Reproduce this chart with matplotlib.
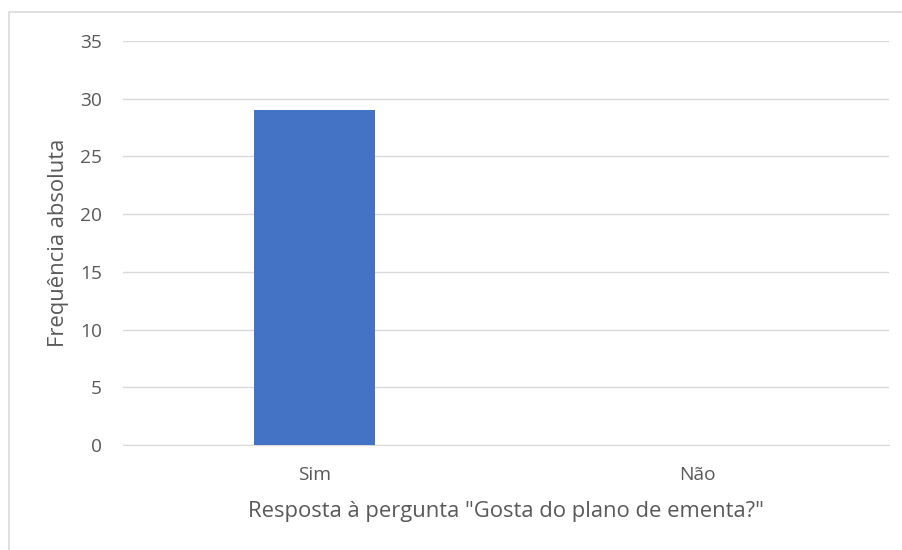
import matplotlib.pyplot as plt
from matplotlib.patches import Rectangle

categories = ['Sim', 'Não']
values = [29, 0]
yticks = [0, 5, 10, 15, 20, 25, 30, 35]

plt.rcParams['font.family'] = ['Open Sans', 'DejaVu Sans']

fig = plt.figure(figsize=(9.02, 5.5), dpi=100)
# outer chart border (only left and top edges fall inside the image)
fig.patches.append(Rectangle((9 / 902, -0.1), 1.0, 1.1 - 12.5 / 550,
                             transform=fig.transFigure, fill=False,
                             edgecolor='#d9d9d9', linewidth=1.2))

ax = fig.add_axes([123 / 902, 1 - 445 / 550, 766 / 902, 404 / 550])
x = range(len(categories))
ax.bar(x, values, width=0.315, color='#4472c4', zorder=3)
ax.set_xlim(-0.5, 1.5)
ax.set_ylim(0, 35)
ax.set_yticks(yticks)
ax.set_xticks(list(x))
ax.set_xticklabels(categories)
ax.grid(axis='y', color='#d9d9d9', linewidth=1, zorder=0)
for s in ['top', 'right', 'left']:
    ax.spines[s].set_visible(False)
ax.spines['bottom'].set_color('#d9d9d9')
ax.tick_params(length=0, labelsize=13.8, colors='#595959')
ax.tick_params(axis='y', pad=15)
ax.tick_params(axis='x', pad=15)
ax.set_xlabel('Resposta à pergunta "Gosta do plano de ementa?"',
              fontsize=15.8, color='#595959', labelpad=12)
ax.set_ylabel('Frequência absoluta', fontsize=15.8, color='#595959', labelpad=8)

fig.savefig('out.png', dpi=100)
